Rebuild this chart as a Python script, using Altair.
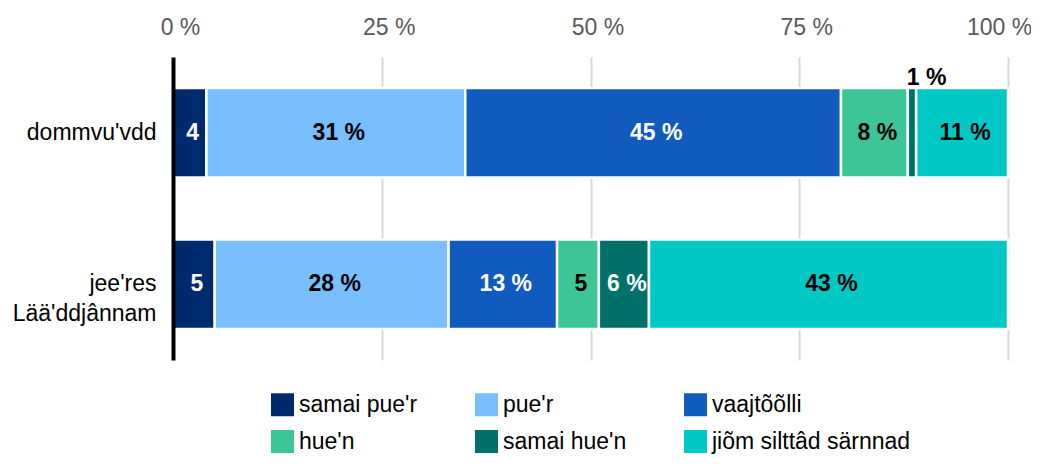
import altair as alt
import pandas as pd

categories = ["dommvu'vdd", "jee'res Lää'ddjânnam"]
series = ["samai pue'r", "pue'r", "vaajtõõlli", "hue'n", "samai hue'n", "jiõm silttâd särnnad"]
values_dommvuvdd = [4, 31, 45, 8, 1, 11]
values_jeeres = [5, 28, 13, 5, 6, 43]
labels_dommvuvdd = ["4", "31 %", "45 %", "8 %", "1 %", "11 %"]
labels_jeeres = ["5", "28 %", "13 %", "5", "6 %", "43 %"]
colors = ["#002A6E", "#79BEFF", "#115BBE", "#3DC497", "#00706B", "#00C8C4"]
dark_series = ["samai pue'r", "vaajtõõlli", "samai hue'n"]
x_ticks = [0, 25, 50, 75, 100]

rows = []
for cat, vals, labs in [
    (categories[0], values_dommvuvdd, labels_dommvuvdd),
    (categories[1], values_jeeres, labels_jeeres),
]:
    start = 0
    for i, (s, v, l) in enumerate(zip(series, vals, labs)):
        rows.append(dict(cat=cat, series=s, order=i, start=start, end=start + v,
                         mid=start + v / 2, label=l, dark=s in dark_series, value=v))
        start += v
df = pd.DataFrame(rows)

FONT = "Liberation Sans"

y_enc = alt.Y(
    "cat:N", sort=categories, title=None,
    scale=alt.Scale(paddingInner=0.41, paddingOuter=0.205),
    axis=alt.Axis(domainColor="black", domainWidth=4, ticks=False, labelPadding=17,
                  labelFontSize=23, labelColor="black", labelFont=FONT,
                  labelExpr="split(datum.label, ' ')", labelLineHeight=30, grid=False,
                  zindex=2),
)

x_scale = alt.Scale(domain=[0, 100], nice=False)

bars = alt.Chart(df).mark_bar(stroke="white", strokeWidth=2.5).encode(
    x=alt.X("start:Q", scale=x_scale, title=None,
            axis=alt.Axis(orient="top", values=x_ticks, labelExpr="datum.value + ' %'",
                          domain=False, ticks=False, grid=True, gridColor="#d9d9d9",
                          gridWidth=2, labelFontSize=23, labelColor="#595959",
                          labelFont=FONT, labelPadding=23, labelBaseline="alphabetic",
                          labelFlush=False,
                          labelOffset={"condition": {"test": "datum.value == 100", "value": -9},
                                       "value": 7})),
    x2="end:Q",
    y=y_enc,
    color=alt.Color("series:N", scale=alt.Scale(domain=series, range=colors),
                    legend=alt.Legend(title=None, orient="none", legendX=98, legendY=336,
                                      direction="horizontal",
                                      columns=3, symbolType="square", symbolSize=529,
                                      symbolStrokeWidth=0, labelFontSize=23, labelFont=FONT,
                                      labelColor="black", labelOffset=5, columnPadding=57,
                                      rowPadding=13, padding=0, gridAlign="each",
                                      labelLimit=400)),
    order=alt.Order("order:Q"),
)

inside = alt.Chart(df).transform_filter("datum.value > 1").mark_text(
    font=FONT, fontSize=23, fontWeight="bold", baseline="middle", dx=3
).encode(
    x=alt.X("mid:Q", scale=x_scale),
    y=alt.Y("cat:N", sort=categories),
    text="label:N",
    color=alt.condition("datum.dark", alt.value("white"), alt.value("black")),
)

outside = alt.Chart(df).transform_filter("datum.value <= 1").mark_text(
    font=FONT, fontSize=23, fontWeight="bold", baseline="alphabetic", align="left",
    dy=-3, dx=-1, color="black"
).encode(
    x=alt.X("start:Q", scale=x_scale),
    y=alt.Y("cat:N", sort=categories, bandPosition=0),
    text="label:N",
)

chart = alt.layer(bars, inside, outside).properties(
    width=835, height=303,
    padding={"left": 165, "top": 49, "right": 23, "bottom": 98},
    autosize=alt.AutoSizeParams(type="none"),
).configure_view(stroke=None)

chart.save("out.html", embed_options={"renderer": "svg", "actions": False})
